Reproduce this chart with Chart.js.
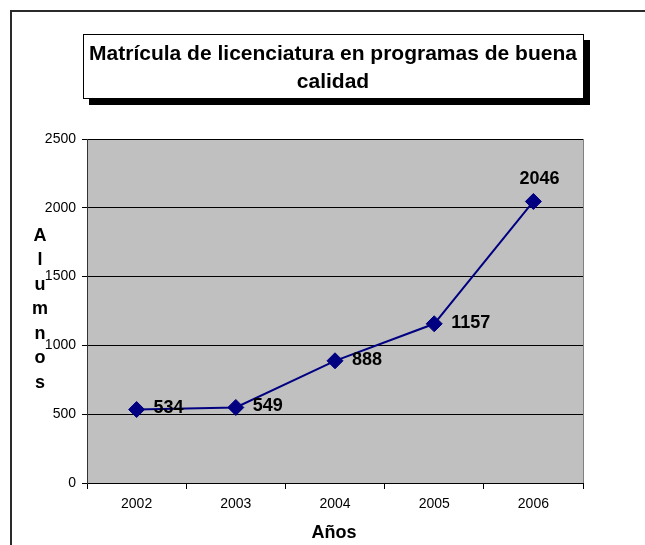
<!DOCTYPE html>
<html>
<head>
<meta charset="utf-8">
<title>Matrícula de licenciatura</title>
<script src="https://cdn.jsdelivr.net/npm/chart.js@4.4.1/dist/chart.umd.min.js"></script>
<style>
  html, body { margin: 0; padding: 0; background: #fff; }
  canvas { display: block; }
</style>
</head>
<body>
<canvas id="grafica" width="645" height="545"></canvas>
<script>
const anios = ['2002', '2003', '2004', '2005', '2006']
const alumnos = [534, 549, 888, 1157, 2046]
const ticksY = [0, 500, 1000, 1500, 2000, 2500]
const titulo = ['Matrícula de licenciatura en programas de buena', 'calidad']
const tituloY = 'Alumnos'
const tituloX = 'Años'

const fuente = '"Liberation Sans", Arial, sans-serif'

// dibuja fondo gris, marco, titulo y etiquetas
const decoracion = {
    id: 'decoracion',
    beforeDraw(chart) {
        const ctx = chart.ctx
        const a = chart.chartArea
        ctx.save()
        ctx.fillStyle = '#fff'
        ctx.fillRect(0, 0, chart.width, chart.height)
        ctx.fillStyle = '#c0c0c0'
        ctx.fillRect(a.left, a.top, a.right - a.left, a.bottom - a.top)
        ctx.restore()
    },
    afterDraw(chart) {
        const ctx = chart.ctx
        const a = chart.chartArea
        ctx.save()
        // borde derecho del area
        ctx.strokeStyle = '#808080'
        ctx.lineWidth = 1
        ctx.beginPath()
        ctx.moveTo(a.right + 0.5, a.top)
        ctx.lineTo(a.right + 0.5, a.bottom)
        ctx.stroke()

        // marco exterior (solo arriba e izquierda)
        ctx.strokeStyle = '#2a2a2a'
        ctx.lineWidth = 2
        ctx.beginPath()
        ctx.moveTo(11, chart.height)
        ctx.lineTo(11, 11)
        ctx.lineTo(chart.width, 11)
        ctx.stroke()

        // caja del titulo con sombra
        ctx.fillStyle = '#000'
        ctx.fillRect(89, 40, 501, 65)
        ctx.fillStyle = '#fff'
        ctx.fillRect(83, 34, 501, 65)
        ctx.strokeStyle = '#000'
        ctx.lineWidth = 1
        ctx.strokeRect(83.5, 34.5, 500, 64)
        ctx.fillStyle = '#000'
        ctx.font = 'bold 21px ' + fuente
        ctx.textAlign = 'center'
        ctx.textBaseline = 'middle'
        ctx.fillText(titulo[0], 333, 54)
        ctx.fillText(titulo[1], 333, 82)

        // titulo eje Y, letras apiladas
        ctx.font = 'bold 18px ' + fuente
        for (let i = 0; i < tituloY.length; i++) {
            ctx.fillText(tituloY[i], 40, 236 + i * 24.5)
        }
        // titulo eje X
        ctx.fillText(tituloX, 334, 533)

        // etiquetas de datos
        const meta = chart.getDatasetMeta(0)
        ctx.font = 'bold 18px ' + fuente
        meta.data.forEach(function(p, i) {
            if (i === alumnos.length - 1) {
                ctx.textAlign = 'center'
                ctx.fillText(alumnos[i], p.x + 6, p.y - 22)
            } else {
                ctx.textAlign = 'left'
                ctx.fillText(alumnos[i], p.x + 17, p.y - 1)
            }
        })
        ctx.restore()
    }
}

let ctx = document.getElementById('grafica')

let grafica = new Chart(ctx, {
    type: 'line',
    data: {
        labels: anios,
        datasets: [{
            label: tituloY,
            data: alumnos,
            borderColor: '#000080',
            backgroundColor: '#000080',
            borderWidth: 2,
            pointStyle: 'rectRot',
            pointRadius: 8,
            pointHoverRadius: 8,
            pointBackgroundColor: '#000080',
            pointBorderColor: '#000080',
            pointBorderWidth: 1,
            tension: 0
        }]
    },
    options: {
        responsive: false,
        animation: false,
        events: [],
        layout: {
            padding: { top: 139, right: 62, left: 0, bottom: 0 }
        },
        plugins: {
            legend: { display: false },
            title: { display: false },
            tooltip: { enabled: false }
        },
        scales: {
            x: {
                offset: true,
                afterFit(s) { s.height = 62 },
                grid: {
                    drawOnChartArea: false,
                    drawTicks: true,
                    tickLength: 6,
                    color: '#000',
                    offset: true
                },
                border: { color: '#000', width: 1 },
                ticks: {
                    color: '#000',
                    padding: 7,
                    font: { family: fuente, size: 14 },
                    maxRotation: 0
                }
            },
            y: {
                min: 0,
                max: 2500,
                afterFit(s) { s.width = 87 },
                afterBuildTicks(s) { s.ticks = ticksY.map(v => ({ value: v })) },
                grid: {
                    color: '#000',
                    lineWidth: 1,
                    drawTicks: true,
                    tickLength: 5
                },
                border: { color: '#333', width: 1 },
                ticks: {
                    color: '#000',
                    padding: 6,
                    font: { family: fuente, size: 14 },
                    callback: v => String(v)
                }
            }
        }
    },
    plugins: [decoracion]
});
</script>
</body>
</html>
